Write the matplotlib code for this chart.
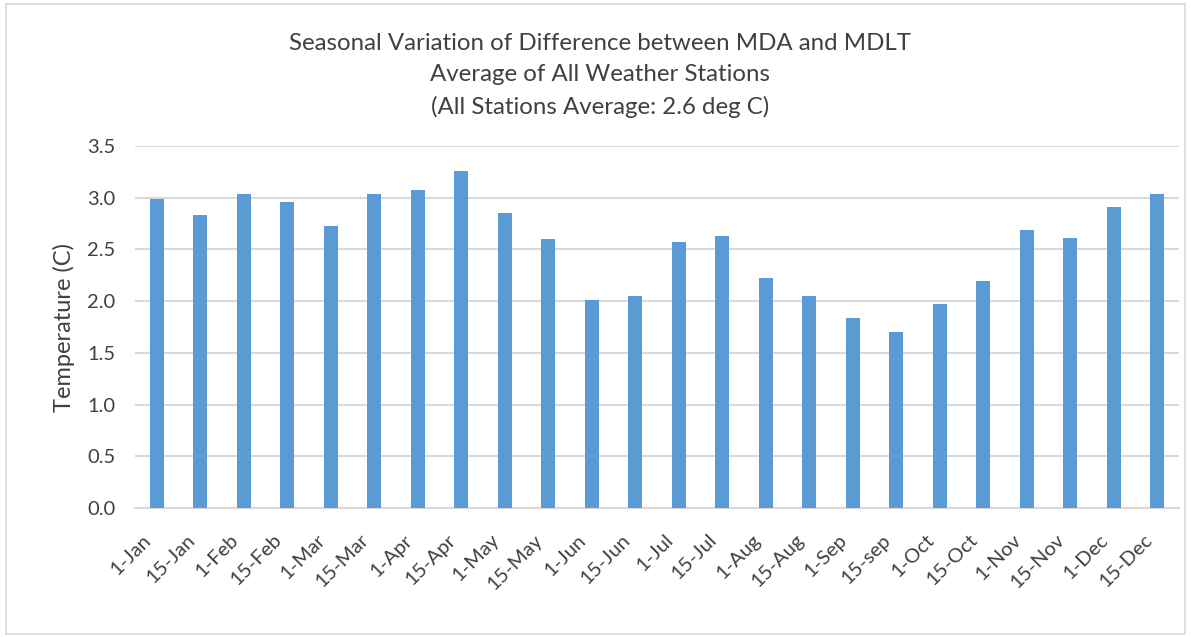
import numpy as np
import matplotlib.pyplot as plt
from matplotlib.patches import Rectangle
from matplotlib.transforms import ScaledTranslation

plt.rcParams['font.family'] = ['Lato', 'DejaVu Sans']

dates = ['1-Jan', '15-Jan', '1-Feb', '15-Feb', '1-Mar', '15-Mar', '1-Apr', '15-Apr',
         '1-May', '15-May', '1-Jun', '15-Jun', '1-Jul', '15-Jul', '1-Aug', '15-Aug',
         '1-Sep', '15-sep', '1-Oct', '15-Oct', '1-Nov', '15-Nov', '1-Dec', '15-Dec']
diff = [2.99, 2.83, 3.04, 2.96, 2.73, 3.04, 3.07, 3.26,
        2.85, 2.60, 2.01, 2.05, 2.57, 2.63, 2.22, 2.05,
        1.84, 1.70, 1.97, 2.19, 2.69, 2.61, 2.91, 3.04]

title = ('Seasonal Variation of Difference between MDA and MDLT\n'
         'Average of All Weather Stations\n'
         '(All Stations Average: 2.6 deg C)')

fig = plt.figure(figsize=(11.91, 6.37), dpi=100)
ax = fig.add_axes([0.1133, 0.2025, 0.8767, 0.5683])

# light chart border
fig.patches.append(Rectangle((0.005, 0.004), 0.99, 0.99, transform=fig.transFigure,
                             fill=False, edgecolor='#d9d9d9', linewidth=1.2))

x = np.arange(len(dates))
ax.bar(x, diff, width=0.32, color='#5b9bd5', zorder=3)

ax.set_xlim(-0.5, len(dates) - 0.5)
ax.set_ylim(0, 3.5)
yt = np.arange(0, 3.51, 0.5)
ax.set_yticks(yt)
ax.set_yticklabels(['%.1f' % v for v in yt], fontsize=14.5, color='#404040')
ax.set_xticks(x)
ax.set_xticklabels(dates, rotation=45, ha='right', va='center', rotation_mode='anchor',
                   fontsize=14.5, color='#404040')
ax.tick_params(axis='both', length=0)
ax.tick_params(axis='x', pad=21)
ax.tick_params(axis='y', pad=14)
# nudge the slanted date labels left so they hang under their bars
shift = ScaledTranslation(-6 / 72, 0, fig.dpi_scale_trans)
for lbl in ax.get_xticklabels():
    lbl.set_transform(lbl.get_transform() + shift)

ax.grid(axis='y', color='#d9d9d9', linewidth=1.5, zorder=0)
for s in ['top', 'right', 'left']:
    ax.spines[s].set_visible(False)
ax.spines['bottom'].set_color('#d9d9d9')
ax.spines['bottom'].set_linewidth(1.5)

ax.set_ylabel('Temperature (C)', fontsize=17, color='#404040', labelpad=9)
fig.text(0.504, 0.948, title, ha='center', va='top', fontsize=17.3, color='#404040',
         linespacing=1.58)

plt.savefig('out.png', dpi=100)
